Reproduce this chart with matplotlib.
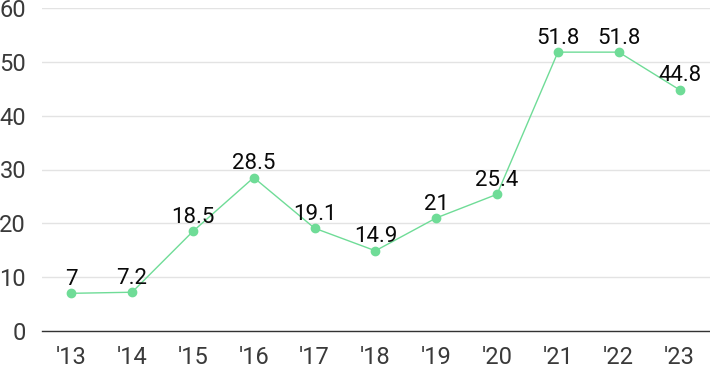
import matplotlib
matplotlib.use("Agg")
import matplotlib.pyplot as plt

years = ["'13", "'14", "'15", "'16", "'17", "'18", "'19", "'20", "'21", "'22", "'23"]
values = [7, 7.2, 18.5, 28.5, 19.1, 14.9, 21, 25.4, 51.8, 51.8, 44.8]
labels = ["7", "7.2", "18.5", "28.5", "19.1", "14.9", "21", "25.4", "51.8", "51.8", "44.8"]
yticks = [0, 10, 20, 30, 40, 50, 60]

fig = plt.figure(figsize=(7.1, 3.71), dpi=100)
ax = fig.add_axes([42/710, 1-331/371, 1-42/710, 323/371])

color = "#6fdc97"
x = list(range(len(years)))
ax.plot(x, values, color=color, lw=1, marker="o", ms=6, mec=color, mfc=color, zorder=3, clip_on=False)
for xi, v, lab in zip(x, values, labels):
    ax.annotate(lab, (xi, v), xytext=(0, 6), textcoords="offset points", ha="center", va="baseline",
                fontsize=16, color="#0a0a0a", family="Roboto")

ax.set_xlim(-0.48, 10.5)
ax.set_ylim(0, 60)
ax.set_yticks(yticks)
ax.set_xticks(x)
ax.set_xticklabels(years)
for s in ["top", "right", "left"]:
    ax.spines[s].set_visible(False)
ax.spines["bottom"].set_color("#333333")
ax.spines["bottom"].set_linewidth(1)
ax.grid(axis="y", color="#e3e3e3", lw=1)
ax.set_axisbelow(True)
ax.tick_params(axis="both", length=0, labelsize=17, labelcolor="#3a3a3a")
ax.tick_params(axis="y", pad=11.5)
ax.tick_params(axis="x", pad=10.5)
for t in ax.get_xticklabels() + ax.get_yticklabels():
    t.set_family("Roboto")
fig.savefig("out.png", dpi=100)
